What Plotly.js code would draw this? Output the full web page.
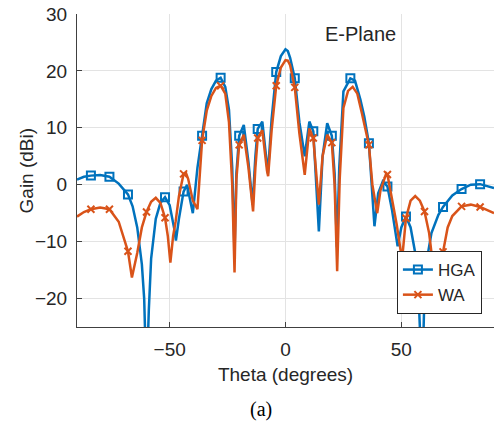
<!DOCTYPE html>
<html>
<head>
<meta charset="utf-8">
<script src="https://cdn.plot.ly/plotly-3.0.1.min.js"></script>
<style>
  html, body { margin: 0; padding: 0; background: #fff; }
  #chart { width: 501px; height: 425px; }
</style>
</head>
<body>
<div id="chart"></div>
<script>
// ---- Data ----
const thetaHGA = [-90,-87,-84,-80,-76,-72,-68,-66,-64,-62,-61,-60,-59,-58,-56,-54,-52,-50,-48,-47.3,-46,-44,-42.5,-41,-40,-39,-38,-36,-34,-32,-30,-28,-26,-24.4,-23,-22,-21.2,-20,-18,-16,-14.2,-13,-12,-10,-8,-7.6,-6,-4,-2,0,1,2,4,6,8.3,10.3,12,14.4,16,18,20,21.2,22.2,23.2,25,28,30,32.3,34,36,38.4,40,42,44,46,48.4,50,52,54,56,57.5,59,60,61,63,66,68,72,76,80,84,87,90];
const gainHGA  = [0.9,1.4,1.6,1.7,1.4,0.2,-1.7,-3.8,-7.5,-14,-20,-35,-22,-13,-6,-3.2,-2.2,-3.6,-7.8,-9.8,-6,-1.2,0,-3,-5,-1,3,8.6,14.3,16.8,18.3,18.8,17.2,13.2,3,-12,2,8.6,10.5,4,-3.5,5,9.8,11.1,4,2,11.5,19.8,22.6,23.8,23.5,22.3,18.7,11,5,11.1,9.4,-8.2,5,10.8,8.6,2,-11,3,16.4,18.7,18.3,15,12,7.3,-7.3,-1.5,0.6,-0.3,-4.5,-10.8,-7.5,-5.6,-7.5,-12,-20,-35,-19,-13.2,-8.5,-5.3,-3.9,-1.9,-0.75,0,0.1,-0.2,-0.6];

const thetaWA = [-90,-87,-84,-80,-76,-72,-68,-66.3,-64,-62,-60,-58,-56,-54,-52,-50.8,-49.7,-48.5,-47.4,-46,-44,-43,-42,-40,-38,-37,-36,-34,-32,-30,-28,-26,-24.4,-23,-22,-21.2,-20,-18,-16,-14,-13,-12,-10,-8,-7.5,-6,-4,-2,0,1,2,4,6,8.3,10.3,12,14.4,16,18,20,21.2,22.3,23.4,25,27,29,31,33,36,37.5,39.6,41,43.5,44,46,48,50.3,52,54,56,58,60,62,64.5,66,68,70,72,76,80,84,88,90];
const gainWA  = [-5.6,-4.8,-4.3,-4.0,-4.3,-6.5,-11.7,-16.3,-12,-7.5,-4.8,-3,-2.3,-3.2,-5.8,-9,-13.7,-9,-6.4,-2,1.9,2.1,1,-2.8,-4.3,1.5,7.8,13,15.6,17,17.4,16,11,0,-15.4,1,7,8.8,3,-4.7,3,8.2,9.6,2.5,1.5,9.5,17.4,20.6,21.9,21.8,21,17.1,9,1.75,9.9,8.2,-3.5,5,8.8,7.4,0,-15.2,1,13.5,16.5,17.2,16,12.5,7.0,0,-5,-1,2,1.8,-2.5,-7,-13.2,-5.9,-2.8,-2,-2.8,-4.7,-8.5,-17,-15,-11.8,-7.5,-5.5,-3.8,-3.5,-3.9,-4.6,-5];

const markerThetas = [-84,-76,-68,-60,-52,-44,-36,-28,-20,-12,-4,4,12,20,28,36,44,52,60,68,76,84];
const seriesNames = ["HGA", "WA"];
const xTicks = [-50, 0, 50];
const yTicks = [-20, -10, 0, 10, 20, 30];

// ---- Styling ----
const blue = "#0072BD";
const orange = "#D95319";
const txt = "#262626";
const font = "Liberation Sans, Arial, Helvetica, sans-serif";

function pick(theta, gain) {
  const xs = [], ys = [];
  theta.forEach((t, i) => { if (markerThetas.includes(t)) { xs.push(t); ys.push(gain[i]); } });
  return {xs, ys};
}
const mH = pick(thetaHGA, gainHGA);
const mW = pick(thetaWA, gainWA);

const traces = [
  {x: thetaHGA, y: gainHGA, mode: "lines", line: {color: blue, width: 2.5}, showlegend: false, hoverinfo: "skip"},
  {x: mH.xs, y: mH.ys, mode: "markers", marker: {symbol: "square-open", size: 8, color: blue, line: {width: 2, color: blue}}, showlegend: false},
  {x: thetaWA, y: gainWA, mode: "lines", line: {color: orange, width: 2.5}, showlegend: false, hoverinfo: "skip"},
  {x: mW.xs, y: mW.ys, mode: "markers", marker: {symbol: "x-thin-open", size: 7, color: orange, line: {width: 2, color: orange}}, showlegend: false},
  // legend entries
  {x: [null], y: [null], name: seriesNames[0], mode: "lines+markers", line: {color: blue, width: 2.5},
   marker: {symbol: "square-open", size: 8, color: blue, line: {width: 2, color: blue}}},
  {x: [null], y: [null], name: seriesNames[1], mode: "lines+markers", line: {color: orange, width: 2.5},
   marker: {symbol: "x-thin-open", size: 7, color: orange, line: {width: 2, color: orange}}}
];

const layout = {
  width: 501, height: 425,
  margin: {l: 77, r: 7, t: 14, b: 98},
  paper_bgcolor: "#fff", plot_bgcolor: "#fff",
  font: {family: font, size: 19, color: txt},
  showlegend: true,
  legend: {
    x: 0.971, y: 0.0415, xanchor: "right", yanchor: "bottom",
    bgcolor: "#fff", bordercolor: txt, borderwidth: 1,
    font: {family: font, size: 17, color: txt},
    tracegroupgap: 0
  },
  xaxis: {
    range: [-90, 90], tickvals: xTicks, ticks: "inside", ticklen: 5, tickcolor: "#404040",
    showgrid: true, gridcolor: "#e3e3e3", zeroline: false,
    showline: true, linecolor: "#404040", linewidth: 1, mirror: false,
    ticklabelstandoff: 5,
    tickfont: {family: font, size: 19, color: txt},
    title: {text: "Theta (degrees)", font: {family: font, size: 19, color: txt}, standoff: 8}
  },
  yaxis: {
    range: [-25, 30], tickvals: yTicks, ticks: "inside", ticklen: 5, tickcolor: "#404040",
    showgrid: true, gridcolor: "#e3e3e3", zeroline: false,
    showline: true, linecolor: "#404040", linewidth: 1, mirror: false,
    ticklabelstandoff: 5,
    tickfont: {family: font, size: 19, color: txt}
  },
  annotations: [
    {text: "Gain (dBi)", xref: "paper", yref: "paper", x: -0.12, y: 0.5, textangle: -90, showarrow: false,
     font: {family: font, size: 19, color: txt}, xanchor: "center", yanchor: "middle"},
    {text: "E-Plane", xref: "paper", yref: "paper", x: 0.681, y: 0.936, showarrow: false,
     font: {family: font, size: 20, color: txt}, xanchor: "center", yanchor: "middle"},
    {text: "(a)", xref: "paper", yref: "paper", x: 0.441, y: -0.262, showarrow: false,
     font: {family: "Liberation Serif, Times New Roman, serif", size: 20, color: "#000"}, xanchor: "center", yanchor: "middle"}
  ]
};

Plotly.newPlot("chart", traces, layout, {displayModeBar: false, staticPlot: true});
</script>
</body>
</html>
